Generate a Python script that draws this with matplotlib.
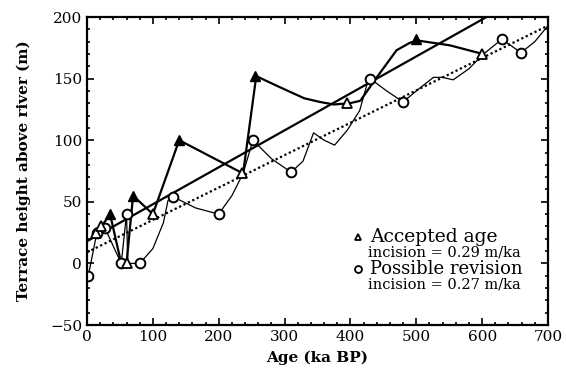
import matplotlib
matplotlib.use('Agg')
import matplotlib.pyplot as plt
from matplotlib.ticker import MultipleLocator

plt.rcParams['font.family'] = ['DejaVu Serif']

# accepted ages (triangles) - filled ones are the arrow tips
acc_x = [13, 22, 60, 100, 235, 395, 600]
acc_y = [25, 30, 0, 40, 73, 130, 170]
acc_fill_x = [35, 70, 140, 255, 500]
acc_fill_y = [40, 55, 100, 152, 182]

# traced path of the accepted-age line
acc_path_x = [13, 22, 35, 52, 60, 70, 100, 140, 237, 257, 293, 330, 354, 375,
              399, 415, 440, 470, 490, 501, 551, 601]
acc_path_y = [25, 30, 40, 0, 0, 55, 40, 100, 73, 152, 143, 134, 131, 129,
              130, 132, 151, 173, 179, 181, 177, 170]

# possible revision (circles)
rev_x = [2, 15, 27, 52, 60, 80, 131, 200, 252, 310, 430, 480, 630, 659]
rev_y = [-10, 25, 29, 0, 40, 0, 54, 40, 100, 74, 150, 131, 182, 171]

# traced path of the revision curve
rev_path_x = [2, 15, 27, 52, 60, 62, 80, 100, 116, 123, 131, 165, 200, 220,
              237, 252, 280, 310, 328, 344, 360, 376, 395, 414, 425, 430,
              455, 480, 500, 526, 540, 556, 580, 600, 630, 659, 680, 700]
rev_path_y = [-10, 25, 29, 0, 40, 0, 0, 12, 33, 51, 54, 45, 40, 55,
              73, 100, 85, 74, 83, 106, 100, 96, 108, 124, 145, 150,
              140, 131, 140, 151, 151, 149, 158, 169, 182, 171, 180, 193]

# regression lines (end points)
fit_acc_x = [0, 700]
fit_acc_y = [18, 228]
fit_rev_x = [0, 700]
fit_rev_y = [9, 193]

fig = plt.figure(figsize=(5.66, 3.83), dpi=100)
ax = fig.add_axes([0.1537, 0.1514, 0.8145, 0.8042])

ax.plot(fit_acc_x, fit_acc_y, color='black', lw=1.6)
ax.plot(fit_rev_x, fit_rev_y, color='black', lw=1.6, ls=(0, (1, 1.2)))

ax.plot(rev_path_x, rev_path_y, color='black', lw=0.9)
ax.plot(acc_path_x, acc_path_y, color='black', lw=1.6)

ax.plot(rev_x, rev_y, ls='none', marker='o', ms=7, mfc='white', mec='black', mew=1.4)
ax.plot(acc_x, acc_y, ls='none', marker='^', ms=7, mfc='white', mec='black', mew=1.3)
ax.plot(acc_fill_x, acc_fill_y, ls='none', marker='^', ms=7, mfc='black', mec='black')

ax.set_xlim(0, 700)
ax.set_ylim(-50, 200)
ax.xaxis.set_major_locator(MultipleLocator(100))
ax.xaxis.set_minor_locator(MultipleLocator(20))
ax.yaxis.set_major_locator(MultipleLocator(50))
ax.yaxis.set_minor_locator(MultipleLocator(10))
ax.tick_params(which='both', direction='in', top=True, right=True, labelsize=11, width=1.2)
ax.tick_params(which='major', length=5)
ax.tick_params(which='minor', length=2.5)
for s in ax.spines.values():
    s.set_linewidth(1.6)

ax.set_xlabel('Age (ka BP)', fontsize=11, fontweight='bold', labelpad=5)
ax.set_ylabel('Terrace height above river (m)', fontsize=11, fontweight='bold', labelpad=14)

# legend drawn by hand
ax.plot([0.588], [0.286], transform=ax.transAxes, marker='^', ms=5, mfc='white', mec='black', mew=1.3)
ax.plot([0.588], [0.182], transform=ax.transAxes, marker='o', ms=5, mfc='white', mec='black', mew=1.3)
ax.text(0.614, 0.286, 'Accepted age', transform=ax.transAxes, fontsize=13.5, va='center')
ax.text(0.610, 0.235, 'incision = 0.29 m/ka', transform=ax.transAxes, fontsize=10.5, va='center')
ax.text(0.614, 0.182, 'Possible revision', transform=ax.transAxes, fontsize=13, va='center')
ax.text(0.610, 0.131, 'incision = 0.27 m/ka', transform=ax.transAxes, fontsize=10.5, va='center')

fig.savefig('out.png', dpi=100)
